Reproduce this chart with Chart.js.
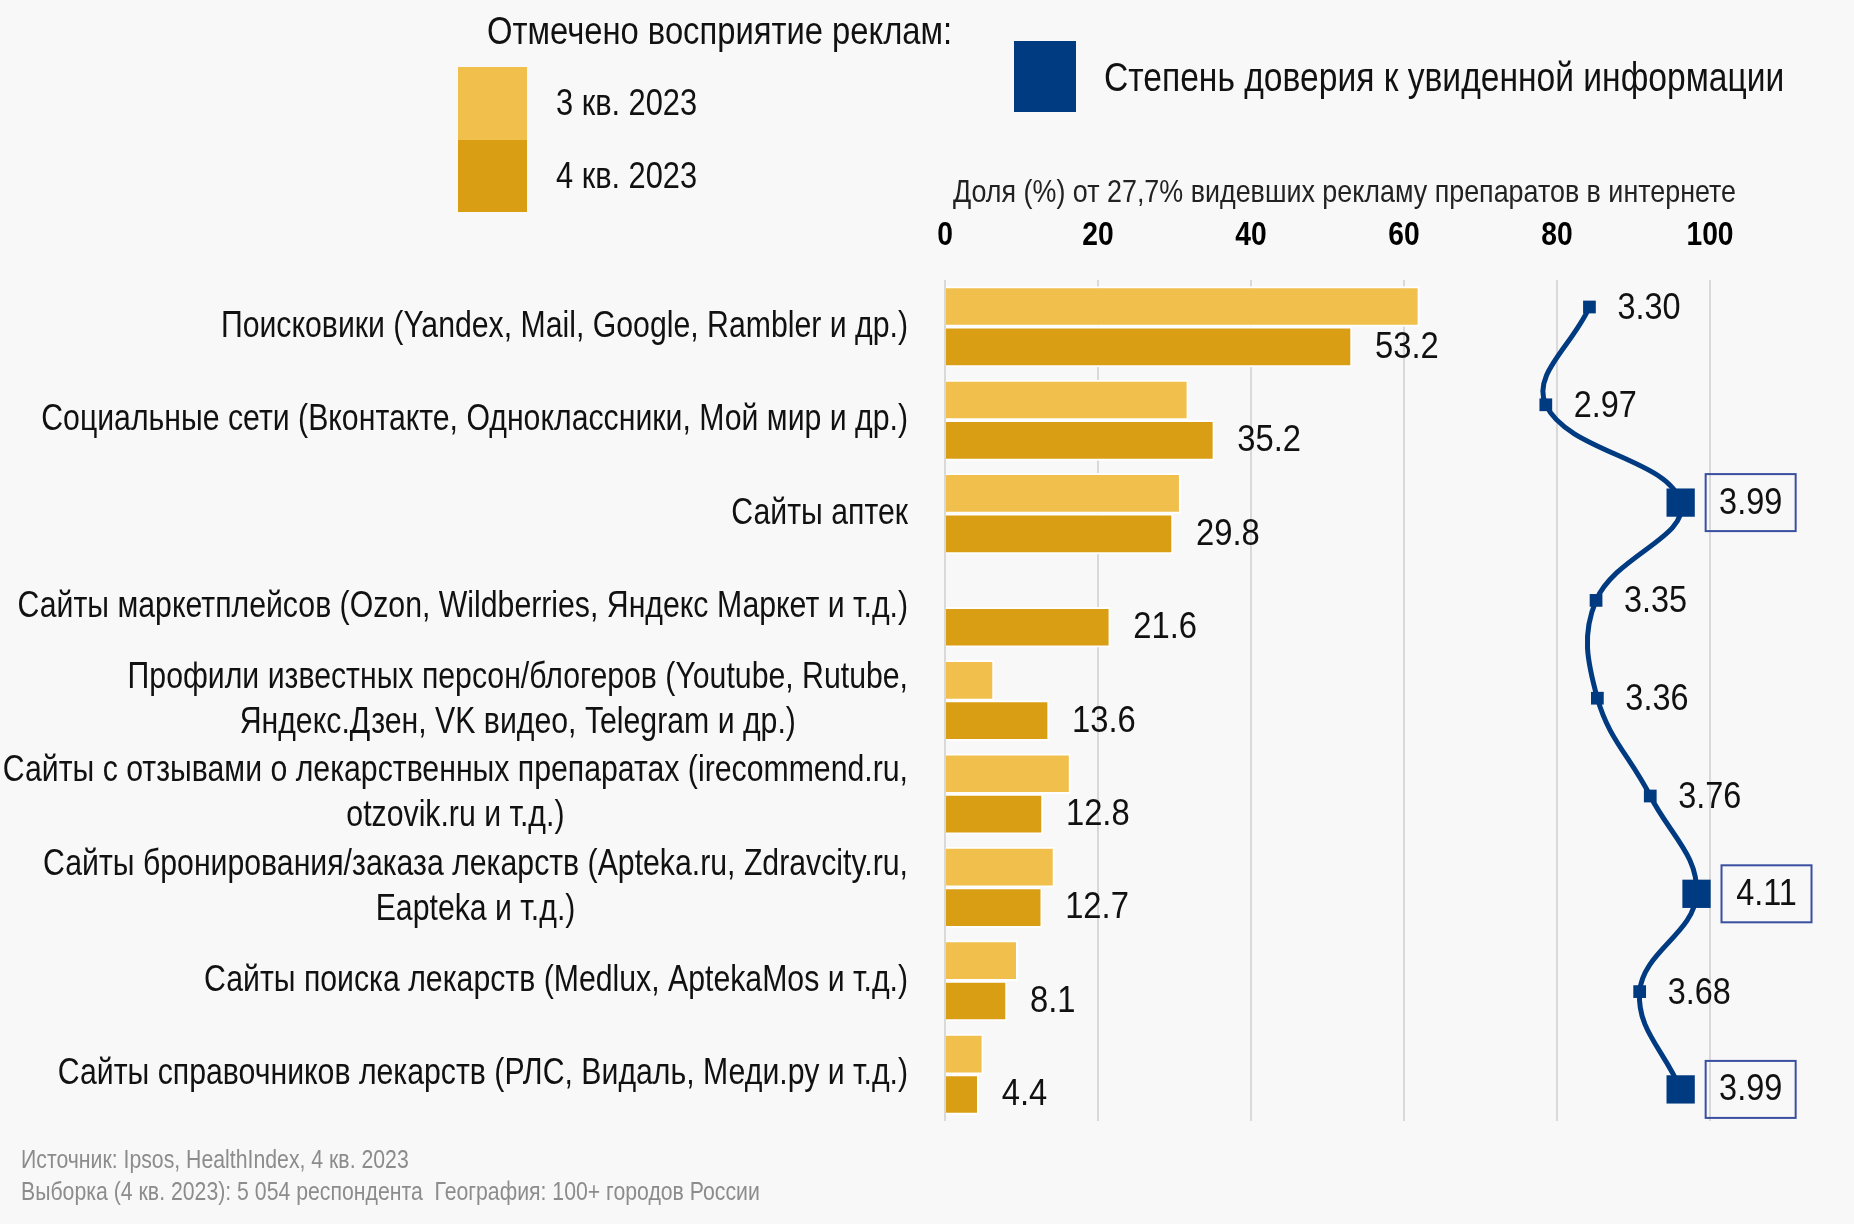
<!DOCTYPE html>
<html lang="ru">
<head>
<meta charset="utf-8">
<script src="https://cdn.jsdelivr.net/npm/chart.js@4.4.1/dist/chart.umd.min.js"></script>
<style>
  html, body { margin: 0; padding: 0; background: #f8f8f8; overflow: hidden; }
  #wrap { position: relative; width: 1854px; height: 1224px; }
</style>
</head>
<body>
<div id="wrap"><canvas id="adChart"></canvas></div>
<script>
const FONT = "'Liberation Sans', Arial, sans-serif";

const categories = [
    "Поисковики (Yandex, Mail, Google, Rambler и др.)",
    "Социальные сети (Вконтакте, Одноклассники, Мой мир и др.)",
    "Сайты аптек",
    "Сайты маркетплейсов (Ozon, Wildberries, Яндекс Маркет и т.д.)",
    ["Профили известных персон/блогеров (Youtube, Rutube,", "Яндекс.Дзен, VK видео, Telegram и др.)"],
    ["Сайты с отзывами о лекарственных препаратах (irecommend.ru,", "otzovik.ru и т.д.)"],
    ["Сайты бронирования/заказа лекарств (Apteka.ru, Zdravcity.ru,", "Eapteka и т.д.)"],
    "Сайты поиска лекарств (Medlux, AptekaMos и т.д.)",
    "Сайты справочников лекарств (РЛС, Видаль, Меди.ру и т.д.)"
];
const q3Values = [62.0, 31.8, 30.8, null, 6.4, 16.4, 14.3, 9.5, 5.0];
const q4Values = [53.2, 35.2, 29.8, 21.6, 13.6, 12.8, 12.7, 8.1, 4.4];
const trustValues = [3.30, 2.97, 3.99, 3.35, 3.36, 3.76, 4.11, 3.68, 3.99];
const xTicks = [0, 20, 40, 60, 80, 100];

const seriesNames = ["3 кв. 2023", "4 кв. 2023", "Степень доверия к увиденной информации"];
const legendTitle = "Отмечено восприятие реклам:";
const axisTitle = "Доля (%) от 27,7% видевших рекламу препаратов в интернете";
const sourceLines = [
    "Источник: Ipsos, HealthIndex, 4 кв. 2023",
    "Выборка (4 кв. 2023): 5 054 респондента  География: 100+ городов России"
];

const C_Q3 = '#f1bf4c';
const C_Q4 = '#da9e14';
const C_NAVY = '#003a80';
const C_BOX = '#3a4fa0';
const C_TEXT = '#111';

const isHigh = v => v >= 3.9;
const SHIFT = 0.216; // half distance between the two bars of a group, in category units

// narrow text: Liberation Sans squeezed horizontally
function txt(ctx, s, x, y, o) {
    o = Object.assign({ size: 36, sx: 0.84, weight: '', align: 'left', color: C_TEXT }, o || {});
    ctx.save();
    ctx.font = (o.weight ? o.weight + ' ' : '') + o.size + 'px ' + FONT;
    ctx.fillStyle = o.color;
    ctx.textBaseline = 'middle';
    ctx.textAlign = o.align;
    ctx.translate(x, y);
    ctx.scale(o.sx, 1);
    ctx.fillText(s, 0, 0);
    ctx.restore();
}
function txtWidth(ctx, s, o) {
    ctx.save();
    ctx.font = (o.weight ? o.weight + ' ' : '') + o.size + 'px ' + FONT;
    const w = ctx.measureText(s).width * o.sx;
    ctx.restore();
    return w;
}

const decorPlugin = {
    id: 'decor',
    afterDraw(chart) {
        const ctx = chart.ctx;
        const area = chart.chartArea;
        const xs = chart.scales.x, ys = chart.scales.y;

        // legend block
        txt(ctx, legendTitle, 487, 33, { size: 39 });
        ctx.fillStyle = C_Q3;
        ctx.fillRect(458, 67, 69, 73);
        ctx.fillStyle = C_Q4;
        ctx.fillRect(458, 140, 69, 72);
        txt(ctx, seriesNames[0], 556, 105, { size: 36, sx: 0.855 });
        txt(ctx, seriesNames[1], 556, 178, { size: 36, sx: 0.855 });
        ctx.fillStyle = C_NAVY;
        ctx.fillRect(1014, 41, 62, 71);
        txt(ctx, seriesNames[2], 1104, 80, { size: 40 });

        // top axis title and tick labels
        txt(ctx, axisTitle, (area.left + area.right) / 2 + 17, 193, { size: 32, align: 'center', color: '#222' });
        xTicks.forEach(v => {
            txt(ctx, String(v), xs.getPixelForValue(v), 236, { size: 34, weight: 'bold', sx: 0.83, align: 'center', color: '#000' });
        });

        // category labels: block right aligned, lines centred inside the block
        const lab = { size: 36, sx: 0.84 };
        categories.forEach((c, i) => {
            const lines = Array.isArray(c) ? c : [c];
            const w = Math.max(...lines.map(l => txtWidth(ctx, l, lab)));
            const cx = area.left - 37 - w / 2;
            const cy = ys.getPixelForValue(i);
            lines.forEach((l, j) => {
                txt(ctx, l, cx, cy + (j - (lines.length - 1) / 2) * 45, Object.assign({ align: 'center' }, lab));
            });
        });

        // 4 кв values
        chart.getDatasetMeta(1).data.forEach((bar, i) => {
            txt(ctx, q4Values[i].toFixed(1), bar.x + 23, bar.y + 1, { sx: 0.91 });
        });

        // trust labels
        chart.getDatasetMeta(2).data.forEach((pt, i) => {
            const v = trustValues[i];
            const s = v.toFixed(2);
            if (isHigh(v)) {
                const bx = pt.x + 25, bw = 90, bh = 57;
                ctx.save();
                ctx.strokeStyle = C_BOX;
                ctx.lineWidth = 2;
                ctx.strokeRect(bx, pt.y - bh / 2, bw, bh);
                ctx.restore();
                txt(ctx, s, bx + bw / 2, pt.y + 1, { sx: 0.9, align: 'center' });
            } else {
                txt(ctx, s, pt.x + 28, pt.y + 2, { sx: 0.9 });
            }
        });

        // source
        txt(ctx, sourceLines[0], 21, 1161, { size: 25, sx: 0.85, color: '#8c8c8c' });
        txt(ctx, sourceLines[1], 21, 1193, { size: 25, sx: 0.85, color: '#8c8c8c' });
    }
};

const barBase = {
    borderColor: '#ffffff',
    borderWidth: 2,
    barThickness: 40,
    grouped: false,
    order: 2
};

new Chart(document.getElementById('adChart').getContext('2d'), {
    type: 'bar',
    data: {
        datasets: [
            Object.assign({
                label: seriesNames[0],
                data: q3Values.map((v, i) => ({ x: v, y: i - SHIFT })),
                backgroundColor: C_Q3
            }, barBase),
            Object.assign({
                label: seriesNames[1],
                data: q4Values.map((v, i) => ({ x: v, y: i + SHIFT })),
                backgroundColor: C_Q4
            }, barBase),
            {
                type: 'line',
                label: seriesNames[2],
                data: trustValues.map((v, i) => ({ x: v, y: i })),
                xAxisID: 'x2',
                yAxisID: 'y2',
                borderColor: C_NAVY,
                backgroundColor: C_NAVY,
                borderWidth: 5,
                tension: 0.4,
                pointStyle: 'rect',
                pointRadius: c => isHigh(trustValues[c.dataIndex]) ? 20 : 9,
                pointBorderWidth: 0,
                clip: false,
                order: 1
            }
        ]
    },
    options: {
        indexAxis: 'y',
        responsive: true,
        maintainAspectRatio: false,
        animation: false,
        layout: { padding: { top: 280, right: 144, bottom: 103, left: 945 } },
        plugins: {
            legend: { display: false },
            tooltip: { enabled: false }
        },
        scales: {
            x: {
                type: 'linear',
                position: 'top',
                offset: false,
                min: 0,
                max: 100,
                afterBuildTicks: s => { s.ticks = xTicks.map(v => ({ value: v })); },
                grid: { color: '#d9d9d9', lineWidth: 2, drawTicks: false, offset: false },
                border: { display: false },
                ticks: { display: false }
            },
            y: {
                type: 'linear',
                display: false,
                offset: false,
                reverse: true,
                min: -0.5,
                max: categories.length - 0.5
            },
            x2: {
                type: 'linear',
                display: false,
                offset: false,
                min: -1.575,
                max: 4.212
            },
            y2: {
                type: 'linear',
                display: false,
                offset: false,
                reverse: true,
                min: -0.276,
                max: 8.323
            }
        }
    },
    plugins: [decorPlugin]
});
</script>
</body>
</html>
